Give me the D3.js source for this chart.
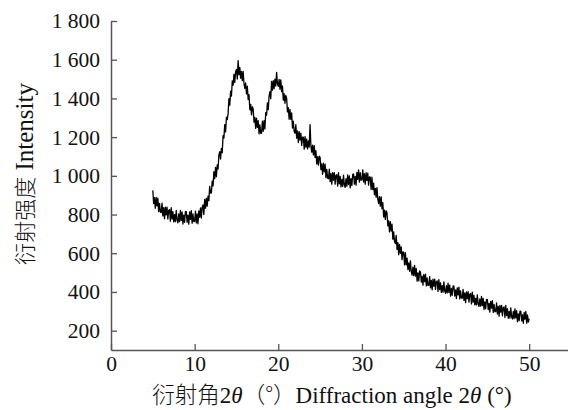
<!DOCTYPE html>
<html>
<head>
<meta charset="utf-8">
<script src="https://cdn.jsdelivr.net/npm/d3@7"></script>
<style>
  body { margin: 0; background: #fff; }
  text { font-family: "Liberation Serif", "Noto Sans CJK SC", serif; }
</style>
</head>
<body>
<script>
// diffraction pattern, sampled every 0.1 deg starting at 5 deg
var angleStart = 5, angleStep = 0.1;
var intensity = [
  925, 857, 887, 833, 888, 845, 885, 815, 858, 813,
  810, 859, 793, 835, 779, 838, 798, 838, 777, 822,
  825, 766, 835, 777, 815, 762, 800, 763, 821, 771,
  757, 803, 763, 821, 770, 813, 751, 797, 760, 815,
  815, 760, 797, 750, 813, 775, 820, 755, 803, 763,
  765, 818, 757, 803, 752, 819, 786, 834, 782, 838,
  850, 800, 878, 833, 884, 843, 895, 872, 946, 911,
  912, 973, 948, 1021, 985, 1043, 996, 1057, 1035, 1107,
  1125, 1087, 1142, 1120, 1208, 1195, 1265, 1227, 1303, 1290,
  1320, 1399, 1365, 1437, 1412, 1490, 1468, 1525, 1482, 1537,
  1550, 1500, 1595, 1522, 1560, 1504, 1540, 1492, 1539, 1477,
  1452, 1480, 1423, 1463, 1395, 1420, 1341, 1369, 1315, 1357,
  1345, 1277, 1302, 1245, 1298, 1250, 1285, 1217, 1263, 1220,
  1220, 1282, 1230, 1285, 1242, 1327, 1313, 1377, 1342, 1410,
  1435, 1398, 1488, 1442, 1492, 1450, 1500, 1464, 1535, 1475,
  1462, 1498, 1448, 1496, 1435, 1465, 1391, 1424, 1375, 1415,
  1400, 1330, 1352, 1292, 1343, 1292, 1325, 1247, 1283, 1230,
  1220, 1264, 1195, 1232, 1172, 1228, 1185, 1221, 1157, 1200,
  1200, 1138, 1203, 1148, 1190, 1139, 1180, 1149, 1265, 1155,
  1122, 1158, 1108, 1156, 1095, 1130, 1061, 1099, 1055, 1102,
  1095, 1032, 1062, 1008, 1065, 1021, 1060, 990, 1033, 988,
  985, 1034, 970, 1012, 957, 1017, 978, 1017, 957, 1003,
  1006, 947, 1016, 958, 997, 943, 982, 945, 1004, 954,
  940, 986, 947, 1005, 955, 999, 938, 985, 950, 1007,
  1010, 957, 997, 952, 1018, 982, 1030, 967, 1016, 977,
  980, 1031, 968, 1011, 957, 1016, 976, 1014, 952, 994,
  993, 929, 993, 929, 962, 902, 935, 889, 939, 880,
  857, 893, 843, 891, 830, 861, 788, 823, 775, 819,
  808, 741, 767, 710, 763, 715, 750, 673, 710, 659,
  650, 692, 620, 655, 592, 646, 600, 633, 567, 607,
  605, 540, 603, 540, 574, 516, 550, 507, 561, 506,
  487, 528, 484, 537, 482, 521, 456, 498, 457, 509,
  503, 451, 481, 435, 490, 453, 492, 431, 472, 434,
  434, 479, 421, 460, 411, 466, 430, 466, 413, 454,
  457, 403, 464, 412, 447, 398, 433, 399, 452, 405,
  393, 432, 395, 445, 398, 435, 378, 418, 383, 431,
  430, 379, 411, 366, 421, 385, 425, 364, 406, 368,
  368, 413, 356, 395, 345, 400, 365, 401, 347, 388,
  392, 338, 399, 347, 382, 333, 367, 333, 385, 338,
  325, 364, 327, 377, 329, 367, 309, 349, 313, 362,
  360, 309, 341, 296, 351, 316, 355, 294, 335, 298,
  298, 343, 286, 325, 275, 330, 295, 331, 277, 318,
  322, 268, 330, 278, 313, 264, 299, 265, 318, 272,
  260, 299, 262, 313, 266, 303, 246, 287, 252, 301,
  300, 250, 282, 238, 294, 259, 299, 239, 281, 244,
  262
];
var xTicks = [0, 10, 20, 30, 40, 50];
var yTicks = [200, 400, 600, 800, 1000, 1200, 1400, 1600, 1800];

var width = 568, height = 410;
var margin = {top: 21, left: 111, bottom: 60};

var svg = d3.select("body").append("svg")
    .attr("width", width)
    .attr("height", height);

var x = d3.scaleLinear().domain([0, 55]).range([margin.left, 571]);
var y = d3.scaleLinear().domain([100, 1800]).range([height - margin.bottom, margin.top]);

var locale = d3.formatLocale({decimal: ".", thousands: " ", grouping: [3], currency: ["", ""]});
var fmt = locale.format(",");

// axes, ticks pointing inward
var xAxis = svg.append("g")
    .attr("transform", "translate(0," + (height - margin.bottom) + ")")
    .call(d3.axisBottom(x).tickValues(xTicks).tickSizeInner(-6).tickSizeOuter(0).tickPadding(6));

var yAxis = svg.append("g")
    .attr("transform", "translate(" + margin.left + ",0)")
    .call(d3.axisLeft(y).tickValues(yTicks).tickFormat(fmt).tickSizeInner(-6).tickSizeOuter(0).tickPadding(11));

[xAxis, yAxis].forEach(function(g) {
  g.select(".domain").attr("stroke", "#555").attr("stroke-width", 1.5);
  g.selectAll(".tick line").attr("stroke", "#555").attr("stroke-width", 1.3);
  g.selectAll(".tick text")
      .attr("fill", "#111")
      .style("font-family", "'Liberation Serif', serif")
      .style("font-size", "21.5px");
});

// the pattern
var line = d3.line()
    .x(function(d, i) { return x(angleStart + i * angleStep); })
    .y(function(d) { return y(d); });

svg.append("path")
    .datum(intensity)
    .attr("fill", "none")
    .attr("stroke", "#000")
    .attr("stroke-width", 1.3)
    .attr("stroke-linejoin", "round")
    .attr("d", line);

// axis titles
var xt = svg.append("text")
    .attr("x", 332)
    .attr("y", 402.5)
    .attr("text-anchor", "middle")
    .style("font-size", "23px")
    .attr("fill", "#111");
xt.append("tspan").style("font-family", "'Noto Sans CJK SC'").style("font-weight", 300).style("font-size", "22.5px").text("衍射角");
xt.append("tspan").text("2");
xt.append("tspan").style("font-style", "italic").text("θ");
xt.append("tspan").style("font-family", "'Noto Sans CJK SC'").style("font-weight", 300).style("font-size", "22.5px").text("（°）");
xt.append("tspan").text("Diffraction angle 2");
xt.append("tspan").style("font-style", "italic").text("θ");
xt.append("tspan").text(" (°)");

var yt = svg.append("text")
    .attr("transform", "translate(33,174) rotate(-90)")
    .attr("text-anchor", "middle")
    .style("font-size", "25px")
    .attr("fill", "#111");
yt.append("tspan").style("font-family", "'Noto Sans CJK SC'").style("font-weight", 300).style("font-size", "22px").text("衍射强度");
yt.append("tspan").text(" Intensity");
</script>
</body>
</html>
